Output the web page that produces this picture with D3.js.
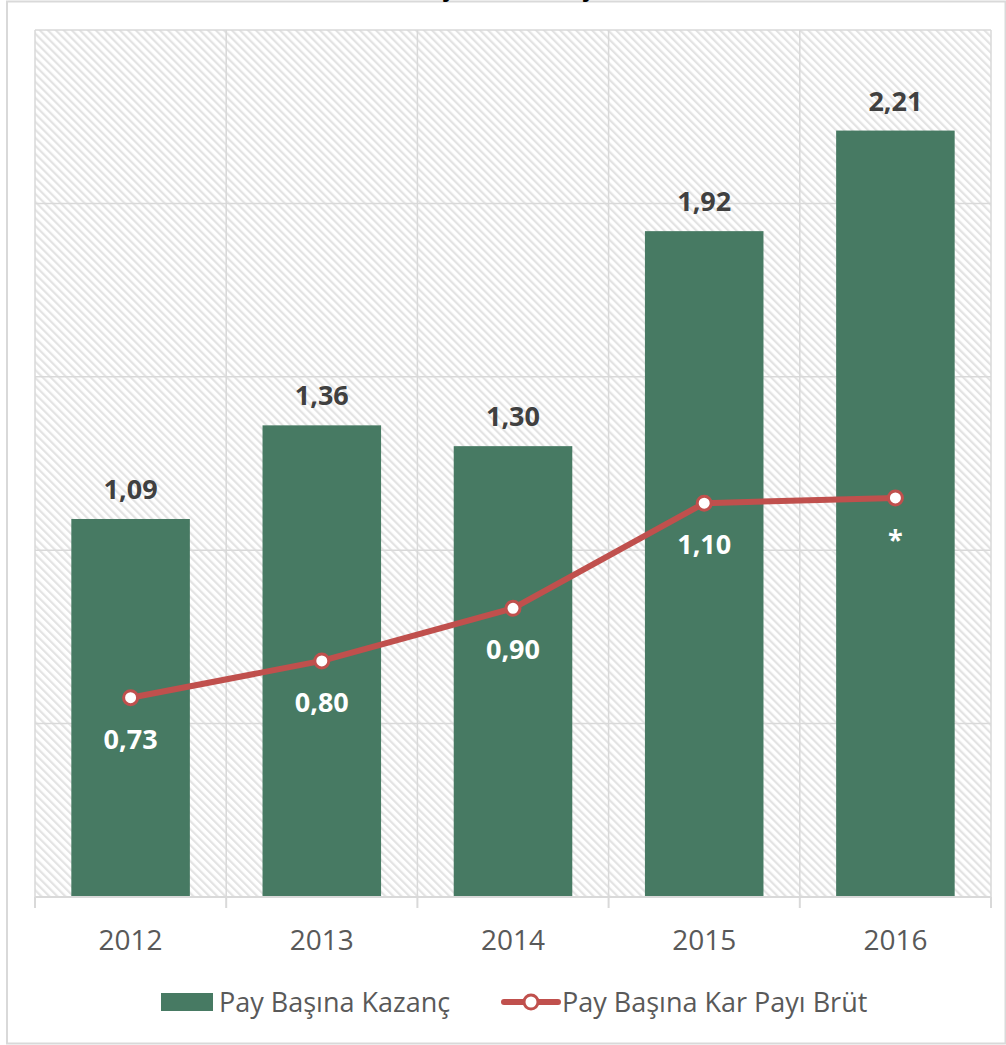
<!DOCTYPE html>
<html>
<head>
<meta charset="utf-8">
<script src="https://cdnjs.cloudflare.com/ajax/libs/d3/7.8.5/d3.min.js"></script>
<style>
  html, body { margin: 0; padding: 0; background: #fff; }
  svg { display: block; }
  text { font-family: "Open Sans", "Noto Sans", sans-serif; }
</style>
</head>
<body>
<svg id="chart" width="1006" height="1045"></svg>
<script>
const years = ["2012", "2013", "2014", "2015", "2016"];
const earnings = [1.09, 1.36, 1.30, 1.92, 2.21];
const dividends = [0.73, 0.80, 0.90, 1.10, 1.11];
const dividendLabels = ["0,73", "0,80", "0,90", "1,10", "*"];
const earningsLabels = ["1,09", "1,36", "1,30", "1,92", "2,21"];
const seriesNames = ["Pay Başına Kazanç", "Pay Başına Kar Payı Brüt"];
const titleText = "Başına Kazanç";
const primaryTicks = [0, 0.5, 1.0, 1.5, 2.0, 2.5];

const barColor = "#477A63";
const lineColor = "#C0504D";

const svg = d3.select("#chart");
const W = 1006, H = 1045;
const plot = { left: 35, right: 991, top: 30, bottom: 897 };

// outer border
svg.append("rect").attr("x", 7).attr("y", 1.5).attr("width", W - 7.5).attr("height", H - 3)
  .attr("fill", "#fff").attr("stroke", "#d9d9d9").attr("stroke-width", 2);

// title (cut off at top in reference: only descenders visible)
svg.append("text").attr("x", 499).attr("y", -4).attr("text-anchor", "middle")
  .attr("font-size", 26).attr("font-weight", "bold").attr("fill", "#000").text(titleText);

const defs = svg.append("defs");
const pat = defs.append("pattern").attr("id", "hatch").attr("patternUnits", "userSpaceOnUse")
  .attr("width", 5.66).attr("height", 5.66).attr("patternTransform", "rotate(-45)");
pat.append("rect").attr("width", 5.66).attr("height", 5.66).attr("fill", "#fff");
pat.append("rect").attr("x", 0).attr("y", 0).attr("width", 2.2).attr("height", 5.66).attr("fill", "#e3e3e3");

const x = d3.scaleBand().domain(years).range([plot.left, plot.right]).paddingInner(0.38).paddingOuter(0.19);
const xb = d3.scaleBand().domain(years).range([plot.left, plot.right]);
const y = d3.scaleLinear().domain([0, 2.5]).range([plot.bottom, plot.top]);
const y2 = d3.scaleLinear().domain([0.351, 2.0]).range([plot.bottom, plot.top]);

// plot background
svg.append("rect").attr("x", plot.left).attr("y", plot.top)
  .attr("width", plot.right - plot.left).attr("height", plot.bottom - plot.top)
  .attr("fill", "url(#hatch)");

// horizontal gridlines
svg.append("g").selectAll("line").data(primaryTicks).join("line")
  .attr("x1", plot.left).attr("x2", plot.right)
  .attr("y1", d => y(d)).attr("y2", d => y(d))
  .attr("stroke", "#d9d9d9").attr("stroke-width", 1.5);

// vertical gridlines at category boundaries
const bounds = years.map(d => xb(d)).concat([plot.right]);
svg.append("g").selectAll("line").data(bounds).join("line")
  .attr("x1", d => d).attr("x2", d => d)
  .attr("y1", plot.top).attr("y2", plot.bottom)
  .attr("stroke", "#d9d9d9").attr("stroke-width", 1.5);

// bars
svg.append("g").selectAll("rect").data(earnings).join("rect")
  .attr("x", (d, i) => x(years[i]))
  .attr("width", x.bandwidth())
  .attr("y", d => y(d))
  .attr("height", d => y(0) - y(d))
  .attr("fill", barColor);

// bar labels
svg.append("g").selectAll("text").data(earnings).join("text")
  .attr("x", (d, i) => x(years[i]) + x.bandwidth() / 2)
  .attr("y", d => y(d) - 20)
  .attr("text-anchor", "middle")
  .attr("font-size", 27).attr("font-weight", "bold").attr("fill", "#404040")
  .text((d, i) => earningsLabels[i]);

// x axis
const xAxisG = svg.append("g").attr("transform", `translate(0,${plot.bottom})`);
xAxisG.append("line").attr("x1", plot.left).attr("x2", plot.right).attr("y1", 0).attr("y2", 0)
  .attr("stroke", "#d9d9d9").attr("stroke-width", 2);
xAxisG.selectAll("line.tick").data(bounds).join("line").attr("class", "tick")
  .attr("x1", d => d).attr("x2", d => d).attr("y1", 0).attr("y2", 11)
  .attr("stroke", "#d9d9d9").attr("stroke-width", 2);
xAxisG.selectAll("text").data(years).join("text")
  .attr("x", d => xb(d) + xb.bandwidth() / 2)
  .attr("y", 53)
  .attr("text-anchor", "middle")
  .attr("font-size", 28).attr("fill", "#595959")
  .text(d => d);

// line
const cx = (i) => xb(years[i]) + xb.bandwidth() / 2;
const line = d3.line().x((d, i) => cx(i)).y(d => y2(d));
svg.append("path").datum(dividends).attr("d", line)
  .attr("fill", "none").attr("stroke", lineColor).attr("stroke-width", 6)
  .attr("stroke-linejoin", "round").attr("stroke-linecap", "round");
svg.append("g").selectAll("circle").data(dividends).join("circle")
  .attr("cx", (d, i) => cx(i)).attr("cy", d => y2(d)).attr("r", 7)
  .attr("fill", "#fff").attr("stroke", lineColor).attr("stroke-width", 3);
svg.append("g").selectAll("text").data(dividends).join("text")
  .attr("x", (d, i) => cx(i))
  .attr("y", d => y2(d) + 51)
  .attr("text-anchor", "middle")
  .attr("font-size", 27).attr("font-weight", "bold").attr("fill", "#fff")
  .text((d, i) => dividendLabels[i]);

// legend
const lg = svg.append("g");
lg.append("rect").attr("x", 161).attr("y", 993).attr("width", 52).attr("height", 18).attr("fill", barColor);
lg.append("text").attr("x", 219).attr("y", 1012).attr("font-size", 27).attr("fill", "#595959").text(seriesNames[0]);
lg.append("line").attr("x1", 504).attr("x2", 558).attr("y1", 1002).attr("y2", 1002)
  .attr("stroke", lineColor).attr("stroke-width", 6).attr("stroke-linecap", "round");
lg.append("circle").attr("cx", 531).attr("cy", 1002).attr("r", 7)
  .attr("fill", "#fff").attr("stroke", lineColor).attr("stroke-width", 3);
lg.append("text").attr("x", 562).attr("y", 1012).attr("font-size", 27).attr("fill", "#595959").text(seriesNames[1]);
</script>
</body>
</html>
